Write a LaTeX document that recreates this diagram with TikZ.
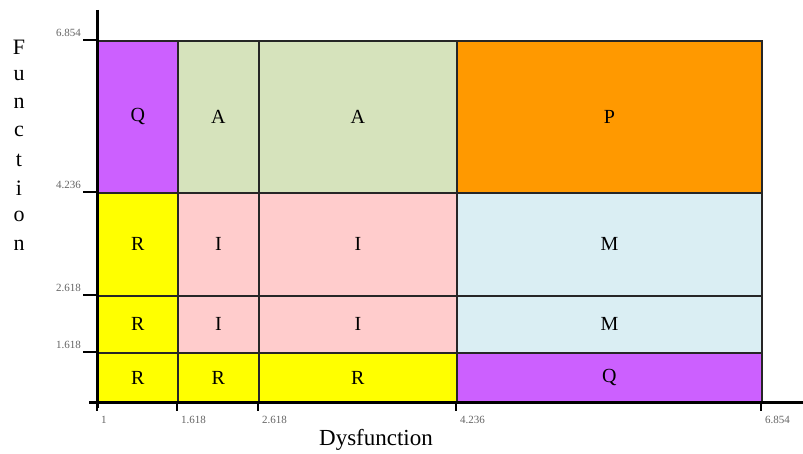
\documentclass[tikz,border=0pt]{standalone}
\usepackage{fontspec}
\setmainfont{Liberation Serif}
\definecolor{cpurple}{RGB}{204,96,255}
\definecolor{cgreen}{RGB}{214,227,188}
\definecolor{corange}{RGB}{255,153,0}
\definecolor{cyellow}{RGB}{255,255,0}
\definecolor{cpink}{RGB}{255,204,204}
\definecolor{cblue}{RGB}{218,238,243}
\definecolor{ticklab}{RGB}{100,100,100}
\tikzset{
  cell/.style={draw=black!85, line width=1.8pt, inner sep=0pt, anchor=north west, font=\fontsize{20}{20}\selectfont},
  axis/.style={line width=3pt, black},
  tickmark/.style={line width=2.6pt, black},
  ticklabel/.style={font=\fontsize{11}{11}\selectfont, text=ticklab, inner sep=0pt},
  vlet/.style={font=\fontsize{22}{22}\selectfont, inner sep=0pt},
}
\begin{document}
\begin{tikzpicture}[x=1pt,y=-1pt]
\useasboundingbox (0,0) rectangle (803,454);
% columns x: 97,177,258,456,761 ; rows y: 40,192,295,352,402
% row 1
\node[cell, fill=cpurple, minimum width=80pt, minimum height=152pt] (q1) at (97,40) {Q};
\node[cell, fill=cgreen, minimum width=81pt, minimum height=152pt] (a1) at (177,40) {A};
\node[cell, fill=cgreen, minimum width=198pt, minimum height=152pt] (a2) at (258,40) {A};
\node[cell, fill=corange, minimum width=305pt, minimum height=152pt] (p1) at (456,40) {P};
% row 2
\node[cell, fill=cyellow, minimum width=80pt, minimum height=103pt] (r1) at (97,192) {R};
\node[cell, fill=cpink, minimum width=81pt, minimum height=103pt] (i1) at (177,192) {I};
\node[cell, fill=cpink, minimum width=198pt, minimum height=103pt] (i2) at (258,192) {I};
\node[cell, fill=cblue, minimum width=305pt, minimum height=103pt] (m1) at (456,192) {M};
% row 3
\node[cell, fill=cyellow, minimum width=80pt, minimum height=57pt] (r2) at (97,295) {R};
\node[cell, fill=cpink, minimum width=81pt, minimum height=57pt] (i3) at (177,295) {I};
\node[cell, fill=cpink, minimum width=198pt, minimum height=57pt] (i4) at (258,295) {I};
\node[cell, fill=cblue, minimum width=305pt, minimum height=57pt] (m2) at (456,295) {M};
% row 4
\node[cell, fill=cyellow, minimum width=80pt, minimum height=50pt] (r3) at (97,352) {R};
\node[cell, fill=cyellow, minimum width=81pt, minimum height=50pt] (r4) at (177,352) {R};
\node[cell, fill=cyellow, minimum width=198pt, minimum height=50pt] (r5) at (258,352) {R};
\node[cell, fill=cpurple, minimum width=305pt, minimum height=50pt] (q2) at (456,352) {Q};
% axes
\coordinate (ytop) at (97,10);
\coordinate (ybot) at (97,408);
\coordinate (xleft) at (89,402);
\coordinate (xright) at (803,402);
\draw[axis] (ytop) -- (ybot);
\draw[axis] (xleft) -- (xright);
% y ticks
\foreach \yy/\lab in {40/6.854,192/4.236,295/2.618,352/1.618}{
  \draw[tickmark] (83,\yy) -- (97,\yy);
  \node[ticklabel, anchor=south east] at (81,\yy-3) {\lab};
}
% x ticks
\foreach \xx/\lab in {97/1,177/1.618,258/2.618,456/4.236,761/6.854}{
  \draw[tickmark] (\xx,402) -- (\xx,411);
  \node[ticklabel, anchor=north west] at (\xx+4,416) {\lab};
}
% axis titles
\node[font=\fontsize{23}{23}\selectfont, inner sep=0pt] (xt) at (376,440) {Dysfunction};
\foreach \ch [count=\i] in {F,u,n,c,t,i,o,n}{
  \node[vlet] at (19,{47+(\i-1)*28.3}) {\ch};
}
\end{tikzpicture}
\end{document}
